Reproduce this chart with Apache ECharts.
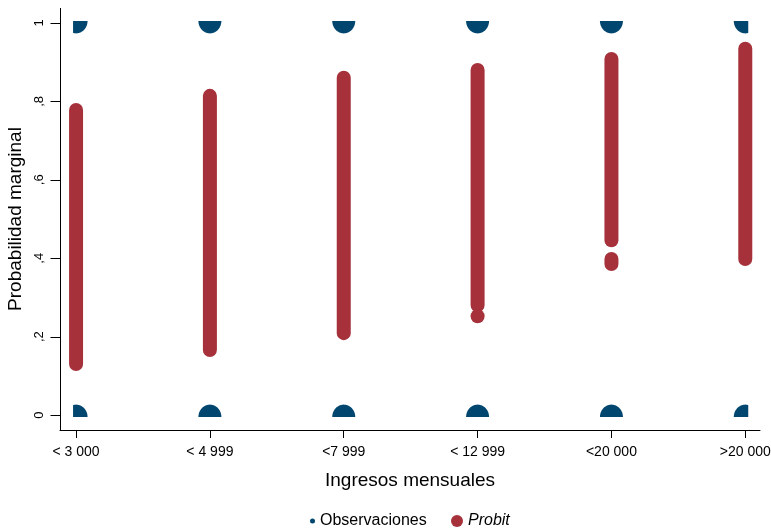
<!DOCTYPE html>
<html>
<head>
<meta charset="utf-8">
<script src="https://cdn.jsdelivr.net/npm/echarts@6/dist/echarts.min.js"></script>
<style>
html, body { margin: 0; padding: 0; background: #fff; }
#main { width: 771px; height: 529px; }
</style>
</head>
<body>
<div id="main"></div>
<script>
var categories = ['< 3 000', '< 4 999', '<7 999', '< 12 999', '<20 000', '>20 000'];
var yTicks = [0, 0.2, 0.4, 0.6, 0.8, 1];
// observed outcomes (0 / 1) per income class
var obsCat = [0, 0, 1, 1, 2, 2, 3, 3, 4, 4, 5, 5];
var obsVal = [0, 1, 0, 1, 0, 1, 0, 1, 0, 1, 0, 1];
// probit predicted probabilities: ranges of the dot columns [low, high]
var probitCat = [0, 1, 2, 3, 3, 4, 4, 5];
var probitLow = [0.13, 0.166, 0.209, 0.28, 0.252, 0.446, 0.385, 0.398];
var probitHigh = [0.778, 0.814, 0.86, 0.88, 0.252, 0.908, 0.398, 0.934];

var xMin = -0.12, xMax = 5.11;
var yMin = -0.038, yMax = 1.038;

var blue = '#00466f';
var red = '#a6313b';
var font = 'Liberation Sans, Arial, sans-serif';

var obsData = [];
for (var i = 0; i < obsCat.length; i++) obsData.push([obsCat[i], obsVal[i]]);
var probitData = [];
for (var j = 0; j < probitCat.length; j++) probitData.push([probitCat[j], probitLow[j], probitHigh[j]]);
var tickData = [];
for (var n = 0; n < yTicks.length; n++) tickData.push([0, yTicks[n]]);

var myChart = echarts.init(document.getElementById('main'));

// half-disc blob: flat side on the 0 / 1 line, clipped at the outer classes
function renderObs(params, api) {
    var c = api.value(0), v = api.value(1);
    var p = api.coord([c, v]);
    var rx = 11.5, ry = 12.5;
    var d = v >= 0.5 ? 1 : -1;
    var ey = p[1] - d * 2;
    var xl = p[0] - rx, xr = p[0] + rx;
    if (c === 0) xl = p[0] - 3;
    if (c === categories.length - 1) xr = p[0] + 3;
    var pts = [];
    for (var k = 0; k <= 40; k++) {
        var t = Math.PI * k / 40;
        var px = p[0] + rx * Math.cos(t);
        var py = ey + d * ry * Math.sin(t);
        pts.push([Math.min(xr, Math.max(xl, px)), py]);
    }
    return { type: 'polygon', shape: { points: pts }, style: { fill: blue } };
}

function renderProbit(params, api) {
    var c = api.value(0);
    var top = api.coord([c, api.value(2)]);
    var bot = api.coord([c, api.value(1)]);
    var w = 14;
    return {
        type: 'rect',
        shape: { x: top[0] - w / 2, y: top[1] - w / 2, width: w, height: bot[1] - top[1] + w, r: w / 2 },
        style: { fill: red }
    };
}

// left axis line + ticks, placed through the axis scales
function renderYAxis(params, api) {
    var tick = api.coord([xMin, api.value(1)]);
    var x = Math.round(tick[0]) + 0.5;
    var y = Math.round(tick[1]) + 0.5;
    var kids = [{
        type: 'line',
        shape: { x1: x - 10, y1: y, x2: x, y2: y },
        style: { stroke: '#000', lineWidth: 1 }
    }];
    if (params.dataIndex === 0) {
        var top = api.coord([xMin, yMax]);
        var bot = api.coord([xMin, yMin]);
        kids.push({
            type: 'line',
            shape: { x1: x, y1: top[1], x2: x, y2: bot[1] },
            style: { stroke: '#000', lineWidth: 1 }
        });
    }
    return { type: 'group', children: kids };
}

var option = {
    animation: false,
    textStyle: { fontFamily: font },
    grid: { left: 60, right: 11, top: 8, bottom: 99, containLabel: false, outerBoundsMode: 'none' },
    legend: [{
        data: ['Observaciones'],
        left: 310, top: 513, padding: 0,
        icon: 'circle', itemWidth: 5, itemHeight: 5,
        textStyle: { fontSize: 16, color: '#000', fontFamily: font }
    }, {
        data: ['Probit'],
        left: 451, top: 513, padding: 0,
        icon: 'circle', itemWidth: 12, itemHeight: 12,
        textStyle: { fontSize: 16, color: '#000', fontStyle: 'italic', fontFamily: font }
    }],
    xAxis: {
        type: 'value',
        min: xMin, max: xMax,
        name: 'Ingresos mensuales',
        nameLocation: 'middle',
        nameGap: 41,
        nameMoveOverlap: false,
        nameTextStyle: { fontSize: 19, color: '#000' },
        splitLine: { show: false },
        axisLine: { show: true, onZero: false, lineStyle: { color: '#000', width: 1 } },
        axisTick: { show: true, length: 8, lineStyle: { color: '#000' }, customValues: [0, 1, 2, 3, 4, 5] },
        axisLabel: {
            fontSize: 14, color: '#000', margin: 15,
            customValues: [0, 1, 2, 3, 4, 5],
            formatter: function (v) { return categories[Math.round(v)]; }
        }
    },
    yAxis: {
        type: 'value',
        min: yMin, max: yMax,
        name: 'Probabilidad marginal',
        nameLocation: 'middle',
        nameGap: 16,
        nameTextStyle: { fontSize: 19, color: '#000' },
        splitLine: { show: false },
        axisLine: { show: false, onZero: false },
        axisTick: { show: false },
        axisLabel: {
            fontSize: 13, color: '#000', margin: 14, rotate: 90,
            customValues: yTicks,
            formatter: function (v) {
                if (v === 0) return '0';
                if (v === 1) return '1';
                return ',' + Math.round(v * 10);
            }
        }
    },
    series: [{
        name: 'Observaciones',
        type: 'custom',
        itemStyle: { color: blue },
        renderItem: renderObs,
        encode: { x: 0, y: 1 },
        data: obsData,
        z: 3
    }, {
        name: 'Probit',
        type: 'custom',
        itemStyle: { color: red },
        renderItem: renderProbit,
        encode: { x: 0, y: [1, 2] },
        data: probitData,
        z: 2
    }, {
        name: 'yAxisLine',
        type: 'custom',
        silent: true,
        clip: false,
        renderItem: renderYAxis,
        encode: { x: 0, y: 1 },
        data: tickData,
        z: 1
    }]
};
myChart.setOption(option);
</script>
</body>
</html>
